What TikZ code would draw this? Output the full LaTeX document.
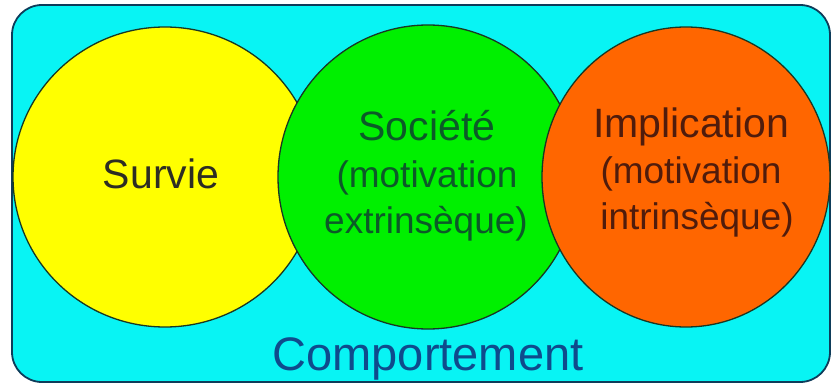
\documentclass[tikz,border=0pt]{standalone}
\usepackage{fontspec}
\setmainfont{Liberation Sans}
\definecolor{bgcyan}{RGB}{8,244,244}
\definecolor{framecol}{RGB}{14,60,90}
\definecolor{cyel}{RGB}{255,255,0}
\definecolor{cgreen}{RGB}{0,240,0}
\definecolor{corange}{RGB}{255,102,0}
\definecolor{outl}{RGB}{25,55,35}
\definecolor{tsurvie}{RGB}{45,45,35}
\definecolor{tgreen}{RGB}{12,90,40}
\definecolor{torange}{RGB}{80,28,12}
\definecolor{tblue}{RGB}{15,75,140}
\tikzset{
  disc/.style={draw=outl, line width=1.3pt},
  title/.style={anchor=base, inner sep=0pt, font=\fontsize{41}{46}\selectfont},
  sub/.style={anchor=base, inner sep=0pt, font=\fontsize{37}{44}\selectfont},
}
\begin{document}
\begin{tikzpicture}[x=1pt,y=-1pt]
\useasboundingbox (0,0) rectangle (832,385);
\fill[white] (0,0) rectangle (832,385);
\draw[fill=bgcyan, draw=framecol, line width=1.8pt, rounded corners=30pt] (12,5) rectangle (830,382);
\draw[disc, fill=cyel] (165,177) ellipse [x radius=152pt, y radius=150pt];
\draw[disc, fill=cgreen] (428,177) ellipse [x radius=150pt, y radius=152pt];
\draw[disc, fill=corange] (686,177) ellipse [x radius=144pt, y radius=150pt];
\node[title, text=tsurvie] (survie) at (161,188) {Survie};
\node[title, text=tgreen] (societe) at (427,140) {Société};
\node[sub, text=tgreen] (soc2) at (427,187) {(motivation};
\node[sub, text=tgreen] (soc3) at (426,233) {extrinsèque)};
\node[title, text=torange] (impl) at (691,138) {Implication};
\node[sub, text=torange] (impl2) at (691,183) {(motivation};
\node[sub, text=torange] (impl3) at (697,229) {intrinsèque)};
\node[anchor=base, inner sep=0pt, font=\fontsize{47}{52}\selectfont, text=tblue] (comp) at (428,370) {Comportement};
\end{tikzpicture}
\end{document}
